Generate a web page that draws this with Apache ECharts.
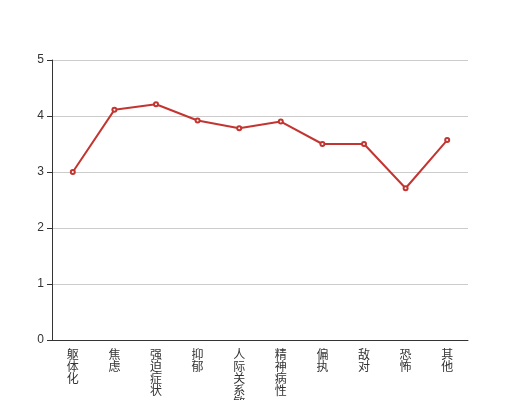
<!DOCTYPE html>
<html>
<head>
<meta charset="utf-8">
<script src="https://cdn.jsdelivr.net/npm/echarts@6/dist/echarts.min.js"></script>
<style>
  html, body { margin: 0; padding: 0; background: #fff; }
  #chart { width: 520px; height: 400px; }
</style>
</head>
<body>
<div id="chart"></div>
<script>
// 因子名称
var categories = ["躯体化", "焦虑", "强迫症状", "抑郁", "人际关系敏感", "精神病性", "偏执", "敌对", "恐怖", "其他"];
// 因子得分
var scores = [3.0, 4.11, 4.21, 3.92, 3.78, 3.9, 3.5, 3.5, 2.71, 3.57];

var chart = echarts.init(document.getElementById("chart"));
var options = {
  animation: false,
  grid: {
    left: 52,
    right: 52,
    top: 60,
    bottom: 60,
    containLabel: false,
    outerBoundsMode: "none",
  },
  xAxis: {
    type: "category",
    data: categories,
    axisLine: {
      lineStyle: { color: "#333" },
    },
    axisTick: {
      lineStyle: { color: "#333" },
    },
    axisLabel: {
      interval: 0,
      color: "#333",
      fontSize: 12,
      lineHeight: 12,
      fontFamily: "Noto Sans CJK SC",
      formatter: function (value) {
        return value.split("").join("\n");
      },
    },
  },
  yAxis: {
    type: "value",
    min: 0,
    max: 5,
    interval: 1,
    axisLine: {
      show: true,
      lineStyle: { color: "#333" },
    },
    axisTick: {
      show: true,
      lineStyle: { color: "#333" },
    },
    axisLabel: {
      color: "#333",
      fontSize: 12,
    },
    splitLine: {
      lineStyle: { color: "#ccc" },
    },
  },
  series: [
    {
      type: "line",
      data: scores,
      symbol: "emptyCircle",
      symbolSize: 4,
      itemStyle: { color: "#c23531" },
      lineStyle: { color: "#c23531", width: 2 },
    },
  ],
};
chart.setOption(options);
</script>
</body>
</html>
